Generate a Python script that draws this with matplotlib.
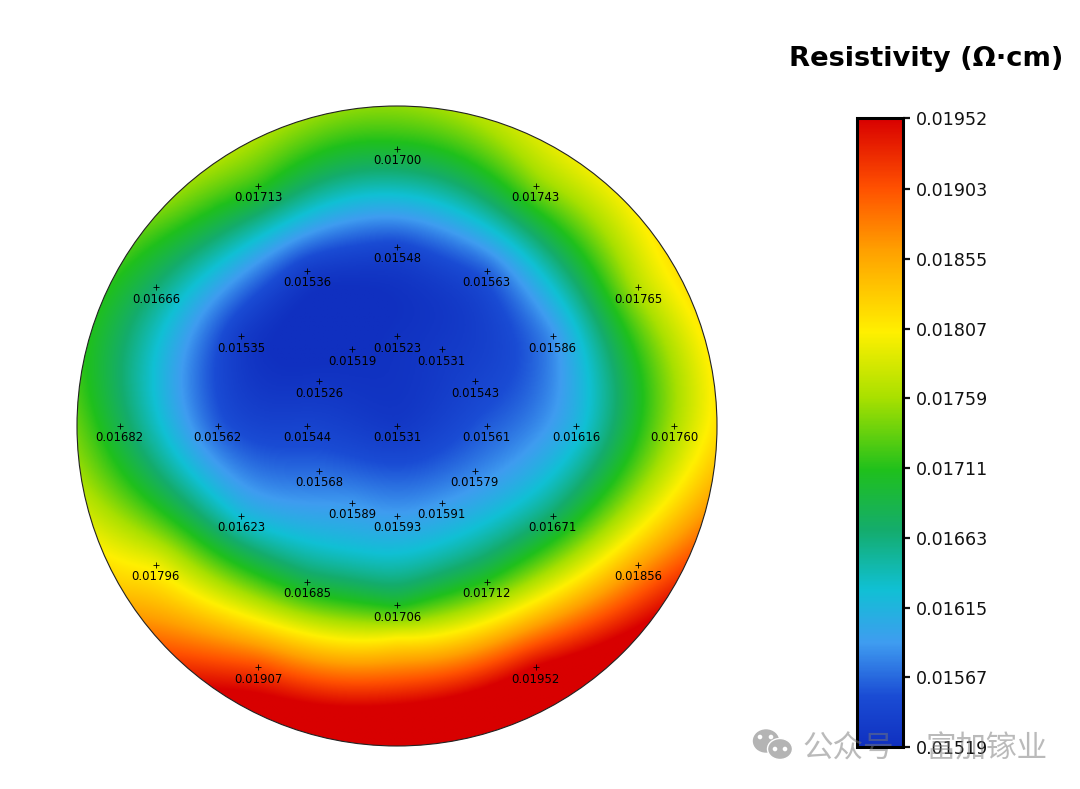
import matplotlib
matplotlib.use("Agg")
import matplotlib.pyplot as plt
import numpy as np
from matplotlib.colors import LinearSegmentedColormap, Normalize
from matplotlib.cm import ScalarMappable
from matplotlib.patches import Circle, Ellipse

# site positions in mm, wafer radius 150
site_x = [0, -65, 65, 0, -42, 42, -113, 113, -73, 0, 73, -21, 21, -36.5, 36.5,
          -130, -84, -42, 0, 42, 84, 130, -36.5, 36.5, -21, 21, -73, 0, 73,
          -113, 113, -42, 42, 0, -65, 65]
site_y = [130, 112.6, 112.6, 84, 72.7, 72.7, 65, 65, 42, 42, 42, 36, 36, 21, 21,
          0, 0, 0, 0, 0, 0, 0, -21, -21, -36, -36, -42, -42, -42,
          -65, -65, -73, -73, -84, -113, -113]
resistivity = [0.01700, 0.01713, 0.01743, 0.01548, 0.01536, 0.01563, 0.01666, 0.01765,
               0.01535, 0.01523, 0.01586, 0.01519, 0.01531, 0.01526, 0.01543,
               0.01682, 0.01562, 0.01544, 0.01531, 0.01561, 0.01616, 0.01760,
               0.01568, 0.01579, 0.01589, 0.01591, 0.01623, 0.01593, 0.01671,
               0.01796, 0.01856, 0.01685, 0.01712, 0.01706, 0.01907, 0.01952]
# values read off the colours where no site is marked, near the rim
rim_x = [0, -106, -150, 106, 150, 0, 0, -130, 130]
rim_y = [150, 106, 0, 106, 0, -100, -131, -75, -75]
rim_val = [0.01750, 0.01748, 0.01735, 0.01800, 0.01815, 0.01807, 0.01952, 0.01830, 0.01925]
cbar_ticks = [0.01519, 0.01567, 0.01615, 0.01663, 0.01711, 0.01759, 0.01807, 0.01855, 0.01903, 0.01952]
map_stops = [0.0, 0.08, 0.165, 0.25, 0.345, 0.44, 0.555, 0.66, 0.79, 0.89, 1.0]
map_colors = ["#1030c0", "#1a4cd4", "#3f9cf0", "#10c0d4", "#14ac6c", "#1fc01c",
              "#a8e000", "#fff000", "#ffa000", "#ff5000", "#d80000"]

W, H = 1080, 789
cmap = LinearSegmentedColormap.from_list("wafer", list(zip(map_stops, map_colors)), N=512)
norm = Normalize(min(resistivity), max(resistivity))


def spline_surface(px, py, x, y, v, power=1.6):
    # radial spline through the measured sites
    def kernel(r):
        return r**power
    n = len(x)
    d = np.hypot(x[:, None] - x, y[:, None] - y)
    P = np.column_stack([np.ones(n), x, y])
    A = np.block([[kernel(d), P], [P.T, np.zeros((3, 3))]])
    w = np.linalg.solve(A, np.r_[v, np.zeros(3)])
    r = np.hypot(px[..., None] - x, py[..., None] - y)
    return kernel(r) @ w[:n] + w[n] + w[n + 1] * px + w[n + 2] * py


x = np.array(site_x, float)
y = np.array(site_y, float)
gx, gy = np.meshgrid(np.linspace(-150, 150, 500), np.linspace(-150, 150, 500))
field = spline_surface(gx, gy, np.r_[x, rim_x], np.r_[y, rim_y], np.r_[resistivity, rim_val])

fig = plt.figure(figsize=(W / 100, H / 100), dpi=100)
ax = fig.add_axes([77 / W, (H - 746) / H, 640 / W, 640 / H])
im = ax.imshow(field, origin="lower", extent=(-150, 150, -150, 150), cmap=cmap, norm=norm,
               interpolation="bilinear")
edge = Circle((0, 0), 150, fill=False, ec="#222222", lw=0.8, clip_on=False)
ax.add_patch(edge)
clip = Circle((0, 0), 150, transform=ax.transData)
im.set_clip_path(clip)
ax.plot(x, y, "+", color="black", ms=5, mew=0.6)
for px, py, val in zip(site_x, site_y, resistivity):
    ax.annotate(f"{val:.5f}", (px, py), xytext=(0, -8.6), textcoords="offset points",
                ha="center", va="center", fontsize=8.4, color="black")
ax.set_xlim(-150, 150)
ax.set_ylim(-150, 150)
ax.axis("off")

cax = fig.add_axes([857 / W, (H - 747) / H, 46 / W, 629 / H])
cb = fig.colorbar(ScalarMappable(norm=norm, cmap=cmap), cax=cax)
cb.set_ticks(cbar_ticks, labels=[f"{t:.5f}" for t in cbar_ticks])
cb.ax.tick_params(labelsize=12.6, length=5, width=1.6, pad=4.5, colors="#111111")
cb.outline.set_linewidth(2.2)

fig.text(926 / W, 1 - 59 / H, "Resistivity (Ω·cm)", ha="center", va="center",
         fontsize=19.7, fontweight="bold", color="black")

# watermark
cjk = ["Noto Sans CJK SC", "DejaVu Sans"]
fig.text(802 / W, 1 - 749 / H, "公众号", ha="left", va="center", fontsize=22, family=cjk,
         color="#777777", alpha=0.5)
fig.text(925 / W, 1 - 749 / H, "富加镓业", ha="left", va="center", fontsize=22, family=cjk,
         color="#777777", alpha=0.5)
overlay = fig.add_axes([0, 0, 1, 1], facecolor="none")
overlay.set_xlim(0, W)
overlay.set_ylim(H, 0)
overlay.axis("off")
overlay.add_patch(Ellipse((766, 741), 25, 22, color="#b4b4b4"))
overlay.add_patch(Ellipse((780, 749), 25, 21, color="#b4b4b4", ec="white", lw=1))
for dot_x, dot_y in [(760, 737), (771, 737), (775, 749), (785, 749)]:
    overlay.add_patch(Circle((dot_x, dot_y), 1.6, color="white"))

fig.savefig("out.png", dpi=100)
